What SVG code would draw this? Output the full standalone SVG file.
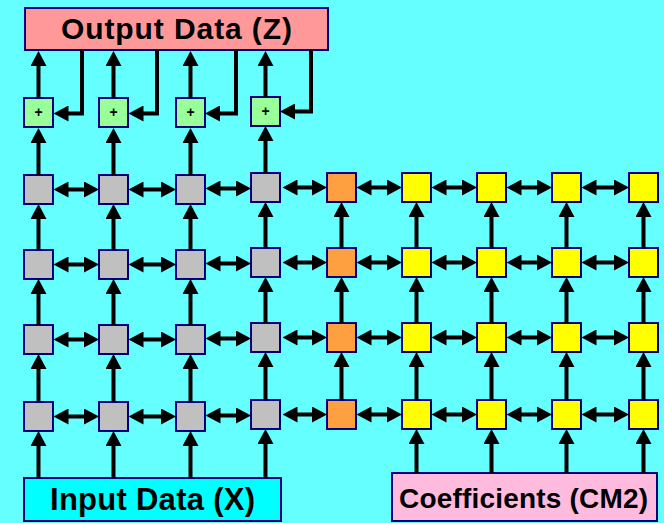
<svg xmlns="http://www.w3.org/2000/svg" width="664" height="523" viewBox="0 0 664 523">
<style>
.box{stroke:#000080;stroke-width:2}
.g{fill:#C0C0C0}
.o{fill:#FFA040}
.y{fill:#FFFF00}
.p{fill:#99FF99}
.c{stroke:#000;stroke-width:4;fill:none;marker-end:url(#ah)}
.d{stroke:#000;stroke-width:4;fill:none;marker-start:url(#ah);marker-end:url(#ah)}
.t{font-family:"Liberation Sans",Arial,sans-serif;font-weight:bold;fill:#000;text-anchor:middle}
</style>
<defs>
<marker id="ah" markerUnits="userSpaceOnUse" viewBox="0 0 15 16" markerWidth="15" markerHeight="16" refX="0.5" refY="8" orient="auto-start-reverse"><path d="M0,0 L15,8 L0,16 z" fill="#000"/></marker>
</defs>
<rect x="0" y="0" width="664" height="523" fill="#66FFFF"/>

<g id="output"><rect class="box" x="25" y="8" width="303" height="42" fill="#FF9999"/><text class="t" x="176.5" y="38.5" font-size="30" textLength="231" lengthAdjust="spacing">Output Data (Z)</text></g>
<g id="input"><rect class="box" x="24" y="478" width="257" height="43" fill="#00FFFF"/><text class="t" x="152.5" y="510" font-size="31" textLength="205" lengthAdjust="spacing">Input Data (X)</text></g>
<g id="coeff"><rect class="box" x="392" y="473" width="265" height="48" fill="#FFBBDD"/><text class="t" x="523.5" y="508" font-size="28" textLength="249" lengthAdjust="spacing">Coefficients (CM2)</text></g>

<g id="add1"><rect class="box p" x="24" y="98" width="29" height="29"/><text class="t" x="38.5" y="117" font-size="14">+</text></g>
<g id="add2"><rect class="box p" x="99" y="98" width="29" height="29"/><text class="t" x="113.5" y="117" font-size="14">+</text></g>
<g id="add3"><rect class="box p" x="176" y="98" width="29" height="29"/><text class="t" x="190.5" y="117" font-size="14">+</text></g>
<g id="add4"><rect class="box p" x="251" y="97" width="29" height="29"/><text class="t" x="265.5" y="116" font-size="14">+</text></g>

<g id="pe-r1c1"><rect class="box g" x="24" y="175" width="29" height="29"/></g>
<g id="pe-r1c2"><rect class="box g" x="99" y="175" width="29" height="29"/></g>
<g id="pe-r1c3"><rect class="box g" x="176" y="175" width="29" height="29"/></g>
<g id="pe-r1c4"><rect class="box g" x="251" y="173" width="29" height="29"/></g>
<g id="pe-r1c5"><rect class="box o" x="327" y="173" width="29" height="29"/></g>
<g id="pe-r1c6"><rect class="box y" x="402" y="173" width="29" height="29"/></g>
<g id="pe-r1c7"><rect class="box y" x="477" y="173" width="29" height="29"/></g>
<g id="pe-r1c8"><rect class="box y" x="552" y="173" width="29" height="29"/></g>
<g id="pe-r1c9"><rect class="box y" x="629" y="173" width="29" height="29"/></g>

<g id="pe-r2c1"><rect class="box g" x="24" y="250" width="29" height="29"/></g>
<g id="pe-r2c2"><rect class="box g" x="99" y="250" width="29" height="29"/></g>
<g id="pe-r2c3"><rect class="box g" x="176" y="250" width="29" height="29"/></g>
<g id="pe-r2c4"><rect class="box g" x="251" y="248" width="29" height="29"/></g>
<g id="pe-r2c5"><rect class="box o" x="327" y="248" width="29" height="29"/></g>
<g id="pe-r2c6"><rect class="box y" x="402" y="248" width="29" height="29"/></g>
<g id="pe-r2c7"><rect class="box y" x="477" y="248" width="29" height="29"/></g>
<g id="pe-r2c8"><rect class="box y" x="552" y="248" width="29" height="29"/></g>
<g id="pe-r2c9"><rect class="box y" x="629" y="248" width="29" height="29"/></g>

<g id="pe-r3c1"><rect class="box g" x="24" y="325" width="29" height="29"/></g>
<g id="pe-r3c2"><rect class="box g" x="99" y="325" width="29" height="29"/></g>
<g id="pe-r3c3"><rect class="box g" x="176" y="325" width="29" height="29"/></g>
<g id="pe-r3c4"><rect class="box g" x="251" y="323" width="29" height="29"/></g>
<g id="pe-r3c5"><rect class="box o" x="327" y="323" width="29" height="29"/></g>
<g id="pe-r3c6"><rect class="box y" x="402" y="323" width="29" height="29"/></g>
<g id="pe-r3c7"><rect class="box y" x="477" y="323" width="29" height="29"/></g>
<g id="pe-r3c8"><rect class="box y" x="552" y="323" width="29" height="29"/></g>
<g id="pe-r3c9"><rect class="box y" x="629" y="323" width="29" height="29"/></g>

<g id="pe-r4c1"><rect class="box g" x="24" y="402" width="29" height="29"/></g>
<g id="pe-r4c2"><rect class="box g" x="99" y="402" width="29" height="29"/></g>
<g id="pe-r4c3"><rect class="box g" x="176" y="402" width="29" height="29"/></g>
<g id="pe-r4c4"><rect class="box g" x="251" y="400" width="29" height="29"/></g>
<g id="pe-r4c5"><rect class="box o" x="327" y="400" width="29" height="29"/></g>
<g id="pe-r4c6"><rect class="box y" x="402" y="400" width="29" height="29"/></g>
<g id="pe-r4c7"><rect class="box y" x="477" y="400" width="29" height="29"/></g>
<g id="pe-r4c8"><rect class="box y" x="552" y="400" width="29" height="29"/></g>
<g id="pe-r4c9"><rect class="box y" x="629" y="400" width="29" height="29"/></g>

<g id="connectors">
<!-- horizontal double arrows, row 1 -->
<line class="d" x1="68" y1="189.5" x2="84.5" y2="189.5"/>
<line class="d" x1="143" y1="189.5" x2="161.5" y2="189.5"/>
<line class="d" x1="220" y1="188.5" x2="236.5" y2="188.5"/>
<line class="d" x1="297" y1="187.5" x2="312.5" y2="187.5"/>
<line class="d" x1="371" y1="187.5" x2="387.5" y2="187.5"/>
<line class="d" x1="446" y1="187.5" x2="462.5" y2="187.5"/>
<line class="d" x1="521" y1="187.5" x2="537.5" y2="187.5"/>
<line class="d" x1="596" y1="187.5" x2="614.5" y2="187.5"/>
<!-- row 2 -->
<line class="d" x1="68" y1="264.5" x2="84.5" y2="264.5"/>
<line class="d" x1="143" y1="264.5" x2="161.5" y2="264.5"/>
<line class="d" x1="220" y1="263.5" x2="236.5" y2="263.5"/>
<line class="d" x1="297" y1="262.5" x2="312.5" y2="262.5"/>
<line class="d" x1="371" y1="262.5" x2="387.5" y2="262.5"/>
<line class="d" x1="446" y1="262.5" x2="462.5" y2="262.5"/>
<line class="d" x1="521" y1="262.5" x2="537.5" y2="262.5"/>
<line class="d" x1="596" y1="262.5" x2="614.5" y2="262.5"/>
<!-- row 3 -->
<line class="d" x1="68" y1="339.5" x2="84.5" y2="339.5"/>
<line class="d" x1="143" y1="339.5" x2="161.5" y2="339.5"/>
<line class="d" x1="220" y1="338.5" x2="236.5" y2="338.5"/>
<line class="d" x1="297" y1="337.5" x2="312.5" y2="337.5"/>
<line class="d" x1="371" y1="337.5" x2="387.5" y2="337.5"/>
<line class="d" x1="446" y1="337.5" x2="462.5" y2="337.5"/>
<line class="d" x1="521" y1="337.5" x2="537.5" y2="337.5"/>
<line class="d" x1="596" y1="337.5" x2="614.5" y2="337.5"/>
<!-- row 4 -->
<line class="d" x1="68" y1="416.5" x2="84.5" y2="416.5"/>
<line class="d" x1="143" y1="416.5" x2="161.5" y2="416.5"/>
<line class="d" x1="220" y1="415.5" x2="236.5" y2="415.5"/>
<line class="d" x1="297" y1="414.5" x2="312.5" y2="414.5"/>
<line class="d" x1="371" y1="414.5" x2="387.5" y2="414.5"/>
<line class="d" x1="446" y1="414.5" x2="462.5" y2="414.5"/>
<line class="d" x1="521" y1="414.5" x2="537.5" y2="414.5"/>
<line class="d" x1="596" y1="414.5" x2="614.5" y2="414.5"/>
<!-- vertical arrows col 1 -->
<line class="c" x1="38.5" y1="98" x2="38.5" y2="65.5"/>
<line class="c" x1="38.5" y1="175" x2="38.5" y2="142.5"/>
<line class="c" x1="38.5" y1="250" x2="38.5" y2="218.5"/>
<line class="c" x1="38.5" y1="325" x2="38.5" y2="293.5"/>
<line class="c" x1="38.5" y1="402" x2="38.5" y2="368.5"/>
<line class="c" x1="38.5" y1="478" x2="38.5" y2="445.5"/>
<!-- col 2 -->
<line class="c" x1="113.5" y1="98" x2="113.5" y2="65.5"/>
<line class="c" x1="113.5" y1="175" x2="113.5" y2="142.5"/>
<line class="c" x1="113.5" y1="250" x2="113.5" y2="218.5"/>
<line class="c" x1="113.5" y1="325" x2="113.5" y2="293.5"/>
<line class="c" x1="113.5" y1="402" x2="113.5" y2="368.5"/>
<line class="c" x1="113.5" y1="478" x2="113.5" y2="445.5"/>
<!-- col 3 -->
<line class="c" x1="190.5" y1="98" x2="190.5" y2="65.5"/>
<line class="c" x1="190.5" y1="175" x2="190.5" y2="142.5"/>
<line class="c" x1="190.5" y1="250" x2="190.5" y2="218.5"/>
<line class="c" x1="190.5" y1="325" x2="190.5" y2="293.5"/>
<line class="c" x1="190.5" y1="402" x2="190.5" y2="368.5"/>
<line class="c" x1="190.5" y1="478" x2="190.5" y2="445.5"/>
<!-- col 4 -->
<line class="c" x1="265.5" y1="97" x2="265.5" y2="65.5"/>
<line class="c" x1="265.5" y1="173" x2="265.5" y2="140.5"/>
<line class="c" x1="265.5" y1="248" x2="265.5" y2="216.5"/>
<line class="c" x1="265.5" y1="323" x2="265.5" y2="291.5"/>
<line class="c" x1="265.5" y1="400" x2="265.5" y2="366.5"/>
<line class="c" x1="265.5" y1="478" x2="265.5" y2="443.5"/>
<!-- col 5 -->
<line class="c" x1="341.5" y1="248" x2="341.5" y2="216.5"/>
<line class="c" x1="341.5" y1="323" x2="341.5" y2="291.5"/>
<line class="c" x1="341.5" y1="400" x2="341.5" y2="366.5"/>
<!-- col 6 -->
<line class="c" x1="416.5" y1="248" x2="416.5" y2="216.5"/>
<line class="c" x1="416.5" y1="323" x2="416.5" y2="291.5"/>
<line class="c" x1="416.5" y1="400" x2="416.5" y2="366.5"/>
<line class="c" x1="416.5" y1="473" x2="416.5" y2="443.5"/>
<!-- col 7 -->
<line class="c" x1="491.5" y1="248" x2="491.5" y2="216.5"/>
<line class="c" x1="491.5" y1="323" x2="491.5" y2="291.5"/>
<line class="c" x1="491.5" y1="400" x2="491.5" y2="366.5"/>
<line class="c" x1="491.5" y1="473" x2="491.5" y2="443.5"/>
<!-- col 8 -->
<line class="c" x1="566.5" y1="248" x2="566.5" y2="216.5"/>
<line class="c" x1="566.5" y1="323" x2="566.5" y2="291.5"/>
<line class="c" x1="566.5" y1="400" x2="566.5" y2="366.5"/>
<line class="c" x1="566.5" y1="473" x2="566.5" y2="443.5"/>
<!-- col 9 -->
<line class="c" x1="643.5" y1="248" x2="643.5" y2="216.5"/>
<line class="c" x1="643.5" y1="323" x2="643.5" y2="291.5"/>
<line class="c" x1="643.5" y1="400" x2="643.5" y2="366.5"/>
<line class="c" x1="643.5" y1="473" x2="643.5" y2="443.5"/>
<!-- feedback from output to adders -->
<path class="c" d="M82,50V113.5H68"/>
<path class="c" d="M157,50V113.5H143"/>
<path class="c" d="M236,50V113.5H219.5"/>
<path class="c" d="M311,50V111.5H294.5"/>
</g>
</svg>
